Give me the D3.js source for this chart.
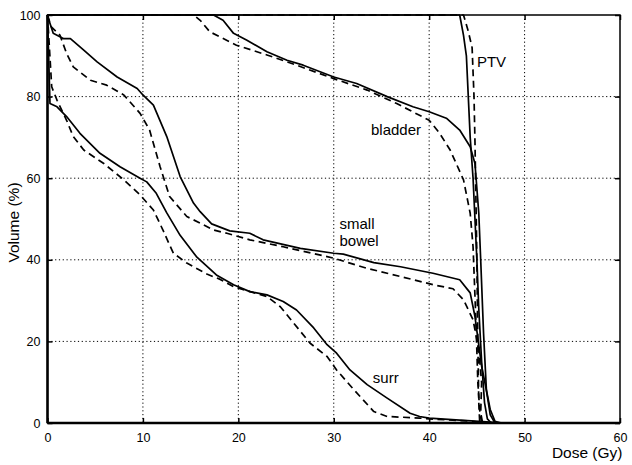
<!DOCTYPE html>
<html>
<head>
<meta charset="utf-8">
<style>
	body { margin: 0; background: #fff; }
	svg { display: block; font-family: "Liberation Sans", Arial, Helvetica, sans-serif; }
	.grid line { stroke: #000; stroke-width: 1; stroke-dasharray: 1.2,2.6; }
	.curve { fill: none; stroke: #000; stroke-width: 1.7; stroke-linejoin: round; }
	.dashed { stroke-dasharray: 7,4.5; }
	.tick-label { font-size: 12.5px; fill: #000; }
	.title { font-size: 15.5px; fill: #000; }
	.organ { font-size: 15px; fill: #000; }
</style>
</head>
<body>
<script src="https://d3js.org/d3.v7.min.js"></script>
<script>
	var xTicks = [0, 10, 20, 30, 40, 50, 60];
	var yTicks = [0, 20, 40, 60, 80, 100];

	// [dose (Gy), volume (%)]; solid = plan A, dashed = plan B
	var ptvSolid = [[0,100],[43.2,100],[43.6,95],[43.9,90],[44.1,80],[44.3,70],[44.6,60],[44.8,50],[45.0,40],[45.2,28],[45.5,15],[45.8,5],[46.1,1],[46.5,0]];
	var ptvDashed = [[0,100],[43.6,100],[44.1,96],[44.5,92],[44.7,80],[44.8,69],[44.9,55],[45.0,40],[45.1,20],[45.2,5],[45.3,0]];

	var bladderSolid = [[0,100],[17.4,100],[18.4,98.7],[19.5,95.5],[20.9,93.8],[23.0,91.0],[25.1,88.9],[26.8,87.7],[30.0,84.8],[32.4,83.2],[35.6,80.0],[38.3,77.5],[40.0,76.3],[41.8,74.7],[43.2,71.8],[44.3,67.7],[44.8,63.6],[45.2,51.4],[45.4,40],[45.7,22],[46.0,8],[46.4,2],[46.9,0]];
	var bladderDashed = [[0,100],[15.3,100],[16.0,98.7],[17.0,95.9],[19.8,92.6],[23.0,90.2],[26.1,87.7],[30.0,84.4],[33.5,81.6],[36.6,78.3],[40.0,74.2],[41.1,71.0],[42.2,66.9],[43.6,59.6],[44.3,51.4],[44.6,43.2],[44.9,25],[45.1,10],[45.3,3],[45.5,0]];

	var bowelSolid = [[0,100],[0.1,99.1],[0.6,95.5],[1.7,94.2],[2.4,94.2],[3.8,91.4],[5.2,88.5],[7.3,84.8],[9.4,82.0],[10.0,80.4],[11.1,77.9],[12.5,70.2],[13.9,60.4],[15.3,53.9],[16.0,51.8],[17.2,48.8],[19.1,47.1],[21.2,46.5],[22.6,44.9],[26.5,42.8],[30.0,41.6],[31.0,41.4],[34.2,39.3],[37.0,38.3],[40.4,36.7],[43.2,35.1],[44.3,31.9],[44.8,26.1],[45.5,13.9],[46.4,3.3],[46.9,0.4],[47.5,0]];
	var bowelDashed = [[0,100],[0.4,97.1],[1.3,95.1],[2.0,90.6],[2.7,87.3],[4.5,84.0],[6.2,82.8],[8.0,80.4],[9.7,75.9],[10.7,71.8],[11.8,62.8],[12.8,55.5],[14.6,50.6],[16.0,49.0],[17.4,47.3],[18.8,46.5],[21.2,44.9],[24.7,43.2],[30.0,40.4],[33.5,37.9],[37.0,35.9],[40.4,33.9],[42.5,32.9],[43.6,30.2],[44.6,25.3],[45.2,17.9],[45.5,9.8],[45.4,2.5],[45.6,0]];

	var surrSolid = [[0,100],[0.26,78.3],[1.0,77.5],[2.0,75.1],[3.4,71.0],[5.5,66.1],[7.6,62.8],[9.7,60.0],[10.4,59.1],[11.4,56.3],[12.5,51.5],[13.9,46.0],[15.6,40.8],[17.7,36.3],[19.5,33.9],[21.2,32.2],[23.0,31.4],[24.7,29.8],[26.1,27.7],[27.9,23.3],[29.3,19.2],[30.3,17.1],[31.7,13.0],[33.5,9.4],[35.6,6.1],[38.0,2.4],[39.0,1.6],[40.0,1.2],[44.0,0.6],[46.0,0.3],[48.0,0]];
	var surrDashed = [[0,100],[0.44,82.4],[1.0,79.1],[2.0,74.2],[2.7,70.2],[3.8,66.9],[5.9,63.6],[8.0,59.6],[9.7,55.9],[11.1,52.2],[12.1,47.3],[12.8,43.6],[13.2,41.6],[14.6,39.2],[16.7,36.5],[18.1,35.2],[19.5,33.4],[23.0,31.0],[24.4,28.5],[25.8,24.5],[27.5,19.6],[29.3,16.3],[30.3,13.0],[32.1,8.2],[34.2,2.8],[35.6,1.6],[39.0,1.2],[40.0,1.0],[44.0,0.5],[46.0,0]];

	var series = [
		{ data: bowelSolid, dashed: false }, { data: bowelDashed, dashed: true },
		{ data: surrSolid, dashed: false }, { data: surrDashed, dashed: true },
		{ data: bladderSolid, dashed: false }, { data: bladderDashed, dashed: true },
		{ data: ptvSolid, dashed: false }, { data: ptvDashed, dashed: true }
	];
	var labels = [
		{ text: "PTV", x: 45.0, y: 87.2 },
		{ text: "bladder", x: 33.9, y: 70.6 },
		{ text: "small", x: 30.6, y: 47.5 },
		{ text: "bowel", x: 30.6, y: 43.4 },
		{ text: "surr", x: 34.1, y: 9.8 }
	];

	var margin = {top: 15, right: 12, bottom: 42, left: 47.5},
		W = 632, H = 465,
		width = W - margin.left - margin.right,
		height = H - margin.top - margin.bottom;

	var x = d3.scaleLinear().domain([0, 60]).range([0, width]);
	var y = d3.scaleLinear().domain([0, 100]).range([height, 0]);

	var svg = d3.select("body").append("svg")
			.attr("width", W)
			.attr("height", H);
	var g = svg.append("g")
			.attr("transform", "translate(" + margin.left + "," + margin.top + ")");

	// dotted grid
	var grid = g.append("g").attr("class", "grid");
	grid.selectAll(".gx").data(xTicks.slice(1, -1)).enter().append("line")
			.attr("x1", function(d) { return x(d); }).attr("x2", function(d) { return x(d); })
			.attr("y1", 0).attr("y2", height);
	grid.selectAll(".gy").data(yTicks.slice(1, -1)).enter().append("line")
			.attr("y1", function(d) { return y(d); }).attr("y2", function(d) { return y(d); })
			.attr("x1", 0).attr("x2", width);

	// curves
	var line = d3.line()
			.x(function(d) { return x(d[0]); })
			.y(function(d) { return y(d[1]); });
	g.selectAll(".curve").data(series).enter().append("path")
			.attr("class", function(d) { return d.dashed ? "curve dashed" : "curve"; })
			.attr("d", function(d) { return line(d.data); });

	// frame
	g.append("rect")
			.attr("width", width).attr("height", height)
			.attr("fill", "none").attr("stroke", "#000").attr("stroke-width", 1.5);
	g.append("line").attr("x1", 0).attr("x2", 0).attr("y1", 0).attr("y2", height)
			.attr("stroke", "#000").attr("stroke-width", 2.5);
	g.append("line").attr("x1", 0).attr("x2", width).attr("y1", height).attr("y2", height)
			.attr("stroke", "#000").attr("stroke-width", 2.5);

	// axes with inward ticks
	var xAxis = d3.axisBottom(x).tickValues(xTicks).tickSizeInner(-5).tickSizeOuter(0).tickPadding(10);
	var xAxisTop = d3.axisTop(x).tickValues(xTicks).tickSizeInner(-5).tickSizeOuter(0).tickFormat("");
	var yAxis = d3.axisLeft(y).tickValues(yTicks).tickSizeInner(-5).tickSizeOuter(0).tickPadding(7);
	var yAxisRight = d3.axisRight(y).tickValues(yTicks).tickSizeInner(-5).tickSizeOuter(0).tickFormat("");

	function styleAxis(sel) {
		sel.select(".domain").remove();
		sel.selectAll(".tick line").attr("stroke", "#000").attr("stroke-width", 1.5);
		sel.selectAll(".tick text").attr("class", "tick-label").attr("font-family", null).attr("font-size", null);
	}
	g.append("g").attr("transform", "translate(0," + height + ")").call(xAxis).call(styleAxis);
	g.append("g").call(xAxisTop).call(styleAxis);
	g.append("g").call(yAxis).call(styleAxis);
	g.append("g").attr("transform", "translate(" + width + ",0)").call(yAxisRight).call(styleAxis);

	// axis titles
	svg.append("text")
			.attr("class", "title")
			.attr("text-anchor", "end")
			.attr("x", 622.5)
			.attr("y", 458)
			.text("Dose (Gy)");
	svg.append("text")
			.attr("class", "title")
			.attr("text-anchor", "middle")
			.attr("transform", "translate(18.5,222.5) rotate(-90)")
			.text("Volume (%)");

	// curve labels
	g.selectAll(".organ").data(labels).enter().append("text")
			.attr("class", "organ")
			.attr("x", function(d) { return x(d.x); })
			.attr("y", function(d) { return y(d.y); })
			.text(function(d) { return d.text; });
</script>
</body>
</html>
